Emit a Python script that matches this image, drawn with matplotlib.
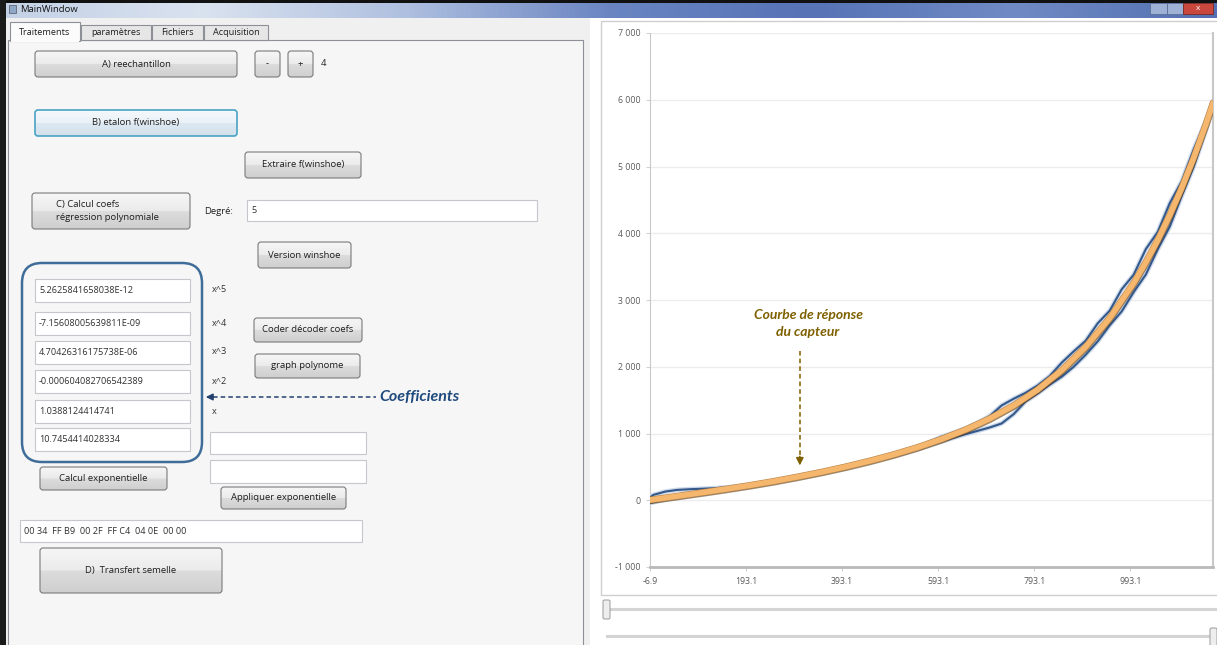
import numpy as np
import matplotlib.pyplot as plt
import matplotlib.patheffects as pe
from matplotlib.patches import FancyBboxPatch, Rectangle
from matplotlib.colors import LinearSegmentedColormap

plt.rcParams['font.family'] = ['Open Sans', 'DejaVu Sans']

# ---- chart data ----
x_fit = [-6.9, 0, 50, 100, 150, 200, 250, 300, 350, 400, 450, 500, 550, 600,
         650, 700, 750, 800, 850, 900, 950, 1000, 1025, 1050, 1075, 1100,
         1125, 1150, 1165]
y_fit = [3, 11, 62, 113, 166, 222, 283, 350, 422, 501, 588, 684, 792, 915,
         1056, 1222, 1419, 1657, 1946, 2298, 2729, 3256, 3562, 3899, 4272,
         4682, 5134, 5629, 5951]

x_mes = [-6.9, 0, 25, 50, 75, 100, 125, 150, 175, 200, 225, 250, 275, 300,
         325, 350, 375, 400, 425, 450, 475, 500, 525, 550, 575, 600, 625, 650,
         675, 700, 725, 750, 775, 800, 825, 850, 875, 900, 925, 950, 975, 1000,
         1025, 1050, 1075, 1100, 1125, 1150, 1165]
y_aller = [40, 80, 130, 155, 165, 172, 180, 192, 205, 228, 255, 285, 318, 352,
           386, 420, 455, 495, 538, 580, 625, 672, 722, 785, 870, 950, 1010,
           1075, 1160, 1260, 1420, 1520, 1610, 1720, 1860, 2060, 2230, 2390,
           2650, 2840, 3160, 3380, 3760, 4020, 4450, 4780, 5260, 5680, 5970]
y_retour = [-40, -30, 10, 45, 75, 100, 125, 152, 180, 210, 240, 272, 305, 340,
            375, 412, 450, 490, 532, 577, 622, 668, 718, 770, 825, 880, 935,
            990, 1040, 1090, 1150, 1290, 1480, 1600, 1730, 1850, 2000, 2180,
            2380, 2620, 2830, 3120, 3380, 3760, 4100, 4560, 5000, 5540, 5900]

x_ticks = [-6.9, 193.1, 393.1, 593.1, 793.1, 993.1]
y_ticks = [-1000, 0, 1000, 2000, 3000, 4000, 5000, 6000, 7000]

# ---- window texts ----
tabs = ["Traitements", "paramètres", "Fichiers", "Acquisition"]
coefs = ["5.2625841658038E-12", "-7.15608005639811E-09", "4.70426316175738E-06",
         "-0.000604082706542389", "1.0388124414741", "10.7454414028334"]
powers = ["x^5", "x^4", "x^3", "x^2", "x", ""]
hex_code = "00 34  FF B9  00 2F  FF C4  04 0E  00 00"

W, H = 1217, 645
fig = plt.figure(figsize=(W / 100, H / 100), dpi=100)
fig.patch.set_facecolor('white')
ui = fig.add_axes([0, 0, 1, 1])
ui.set_xlim(0, W)
ui.set_ylim(H, 0)
ui.axis('off')

btn_cmap = LinearSegmentedColormap.from_list(
    'btn', [(0, '#f6f6f6'), (0.5, '#ebebeb'), (0.51, '#dcdcdc'), (1, '#cfcfcf')])
focus_cmap = LinearSegmentedColormap.from_list(
    'foc', [(0, '#f4f8fb'), (0.5, '#eaf2f8'), (0.51, '#dde9f2'), (1, '#d3e1ec')])


def button(x0, y0, x1, y1, label, focus=False, ha='center', tx=None):
    patch = FancyBboxPatch((x0, y0), x1 - x0, y1 - y0,
                           boxstyle="round,pad=0,rounding_size=3",
                           fc='none', ec='#4aa3c4' if focus else '#7a7a7a',
                           lw=1.2 if focus else 0.8, zorder=4)
    ui.add_patch(patch)
    grad = np.linspace(0, 1, 64).reshape(-1, 1)
    im = ui.imshow(grad, cmap=focus_cmap if focus else btn_cmap,
                   extent=(x0, x1, y1, y0), aspect='auto', zorder=3)
    im.set_clip_path(patch)
    if tx is None:
        tx = (x0 + x1) / 2
    ui.text(tx, (y0 + y1) / 2, label, ha=ha, va='center', fontsize=6.8,
            color='#1e1e1e', zorder=5, linespacing=1.5)


def textbox(x0, y0, x1, y1, txt=""):
    ui.add_patch(Rectangle((x0, y0), x1 - x0, y1 - y0, fc='white',
                           ec='#c5c7cc', lw=0.8, zorder=3))
    if txt:
        ui.text(x0 + 4, (y0 + y1) / 2, txt, ha='left', va='center',
                fontsize=6.6, color='#303030', zorder=5)


# window frame and title bar
ui.add_patch(Rectangle((0, 0), 590, H, fc='#f0f0f0', ec='none', zorder=0))
title_cmap = LinearSegmentedColormap.from_list(
    'tt', ['#c3d1e6', '#d9e2ef', '#aebfdf', '#6a85c2', '#5873b6', '#6f8ac4', '#5570b2'])
ui.imshow(np.linspace(0, 1, 256).reshape(1, -1), cmap=title_cmap,
          extent=(0, W, 18, 2), aspect='auto', zorder=1)
ui.add_patch(Rectangle((0, 0), W, 2.5, fc='#111111', ec='none', zorder=2))
ui.add_patch(Rectangle((0, 0), 6, H, fc='#1a1a1a', ec='none', zorder=6))
ui.add_patch(Rectangle((9, 5), 7, 8, fc='#8fa8c8', ec='#556', lw=0.5, zorder=2))
ui.text(20, 10, "MainWindow", fontsize=6.8, va='center', color='#111', zorder=3)
ui.add_patch(Rectangle((1150, 3), 17, 11, fc='#9fb2d6', ec='#5a6e98', lw=0.6, zorder=3))
ui.add_patch(Rectangle((1167, 3), 16, 11, fc='#9fb2d6', ec='#5a6e98', lw=0.6, zorder=3))
ui.add_patch(Rectangle((1183, 3), 30, 11, fc='#c9473d', ec='#7a2a22', lw=0.6, zorder=3))
ui.text(1198, 8.5, "x", fontsize=6, color='white', ha='center', va='center', zorder=4)

# tab control
ui.add_patch(Rectangle((8, 40), 575, 610, fc='#f6f6f6', ec='#8d9097', lw=0.8, zorder=1))
tab_x = [(10, 80), (81, 151), (152, 203), (204, 268)]
for i, ((a, b), name) in enumerate(zip(tab_x, tabs)):
    if i == 0:
        ui.add_patch(Rectangle((a, 22), b - a, 19, fc='#fbfbfb', ec='#8d9097', lw=0.8, zorder=2))
        ui.add_patch(Rectangle((a + 0.6, 39.5), b - a - 1.2, 2, fc='#fbfbfb', ec='none', zorder=2))
    else:
        ui.add_patch(Rectangle((a, 25), b - a, 15, fc='#e6e6e6', ec='#8d9097', lw=0.8, zorder=2))
    ui.text((a + b) / 2, 32.5, name, ha='center', va='center', fontsize=6.6,
            color='#1e1e1e', zorder=3)

# buttons / fields
button(35, 51, 237, 77, "A) reechantillon")
button(255, 51, 280, 77, "-")
button(288, 51, 313, 77, "+")
ui.text(321, 64, "4", fontsize=6.8, va='center', color='#222')
button(35, 110, 237, 136, "B) etalon f(winshoe)", focus=True)
button(245, 152, 361, 178, "Extraire f(winshoe)")
button(32, 193, 190, 229, "C) Calcul coefs\nrégression polynomiale", ha='left', tx=56)
ui.text(204, 211, "Degré:", fontsize=6.8, va='center', color='#222')
textbox(247, 200, 537, 221, "5")
button(258, 242, 351, 268, "Version winshoe")

coef_y = [279, 312, 341, 370, 400, 428]
for yy, c, p in zip(coef_y, coefs, powers):
    textbox(35, yy, 190, yy + 23, c)
    if p:
        ui.text(212, yy + 11, p, fontsize=6.6, va='center', color='#333')

button(254, 318, 362, 342, "Coder décoder coefs")
button(255, 354, 360, 378, "graph polynome")
ui.add_patch(FancyBboxPatch((22, 263), 180, 199,
                            boxstyle="round,pad=0,rounding_size=20",
                            fc='none', ec='#3f6d99', lw=1.8, zorder=6))
ui.plot([213, 376], [397, 397], ls=(0, (3, 2)), color='#24406e', lw=1.1, zorder=6)
ui.annotate('', xy=(203, 397), xytext=(216, 397),
            arrowprops=dict(arrowstyle='-|>', color='#24406e', lw=1.1,
                            mutation_scale=10), zorder=6)
ui.text(379, 397, "Coefficients", fontsize=11.5, fontweight='bold', style='italic',
        family=['Lato', 'DejaVu Sans'], color='#1f4a7c', va='center', ha='left', zorder=6)

textbox(210, 432, 366, 454)
textbox(210, 460, 366, 483)
button(40, 467, 167, 490, "Calcul exponentielle")
button(221, 487, 346, 509, "Appliquer exponentielle")
textbox(20, 520, 362, 542, hex_code)
button(40, 548, 222, 593, "D)  Transfert semelle")

# right panel: chart frame and sliders
ui.add_patch(Rectangle((601, 21), 620, 574, fc='white', ec='#cfcfcf', lw=1.0, zorder=1))
ui.plot([606, 1217], [609, 609], color='#d4d4d4', lw=2.2, zorder=2)
ui.add_patch(FancyBboxPatch((603, 600), 7, 19, boxstyle="round,pad=0,rounding_size=1.5",
                            fc='#eeeeee', ec='#9a9a9a', lw=0.7, zorder=3))
ui.plot([607, 1214], [636, 636], color='#d4d4d4', lw=2.2, zorder=2)
ui.add_patch(FancyBboxPatch((1210, 628), 7, 19, boxstyle="round,pad=0,rounding_size=1.5",
                            fc='#eeeeee', ec='#9a9a9a', lw=0.7, zorder=3))

# ---- chart ----
ax = fig.add_axes([650 / W, 1 - 567 / H, 563 / W, 534 / H])
ax.set_facecolor('white')
ax.set_xlim(-6.9, 1165)
ax.set_ylim(-1000, 7000)
ax.set_xticks(x_ticks)
ax.set_xticklabels([f"{v:.1f}" for v in x_ticks])
ax.set_yticks(y_ticks)
ax.set_yticklabels([f"{v:,}".replace(",", " ") for v in y_ticks])
ax.yaxis.grid(True, color='#ececec', lw=1.0)
ax.set_axisbelow(True)
ax.tick_params(axis='both', labelsize=6.3, colors='#5a5a5a', length=3,
               width=0.6, pad=4)
ax.tick_params(axis='both', color='#c8c8c8')
ax.spines['top'].set_visible(False)
ax.spines['left'].set_color('#c8c8c8')
ax.spines['right'].set_color('#c8c8c8')
ax.spines['right'].set_linewidth(1.5)
ax.spines['bottom'].set_color('#b9b9b9')
ax.spines['bottom'].set_linewidth(2.0)

glow = [pe.Stroke(linewidth=3.4, foreground='#b8cbe4', alpha=0.7), pe.Normal()]
ax.plot(x_mes, y_retour, color='#34588a', lw=1.5, path_effects=glow, zorder=3)
ax.plot(x_mes, y_aller, color='#34588a', lw=1.5, path_effects=glow, zorder=3)
ax.plot(x_fit, y_fit, color='#f5b66e', lw=4.0, solid_capstyle='round', zorder=4,
        path_effects=[pe.SimpleLineShadow(offset=(0.5, -1.0), shadow_color='#5b3a12',
                                          alpha=0.6),
                      pe.Stroke(linewidth=4.8, foreground='#b58246'),
                      pe.Normal()])

# annotation "Courbe de réponse du capteur"
ax.plot([305, 305], [2230, 640], ls=(0, (3, 2)), color='#7f6000', lw=1.1, zorder=5)
ax.annotate('', xy=(305, 480), xytext=(305, 700),
            arrowprops=dict(arrowstyle='-|>', color='#7f6000', lw=1.1,
                            mutation_scale=11), zorder=5)
ax.text(322, 2650, "Courbe de réponse\ndu capteur", ha='center', va='center',
        fontsize=10, fontweight='bold', style='italic', color='#7f6000',
        family=['Lato', 'DejaVu Sans'], linespacing=1.45, zorder=5)

fig.savefig('out.png', dpi=100)
